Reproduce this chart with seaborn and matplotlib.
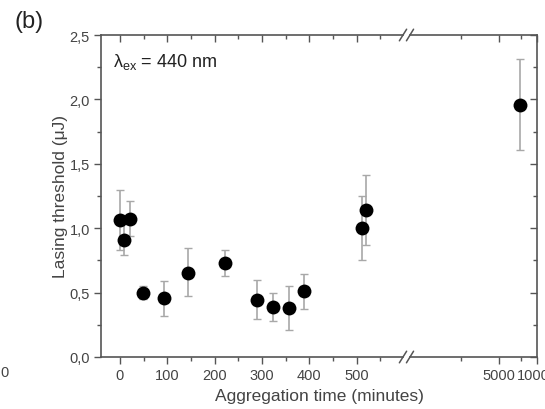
import numpy as np
import pandas as pd
import seaborn as sns
import matplotlib.pyplot as plt
from matplotlib.ticker import FuncFormatter

# Data (aggregation time in minutes, threshold in uJ)
time_min = [0, 8, 21, 49, 93, 144, 223, 290, 324, 357, 389, 511, 519, 7300]
threshold = [1.06, 0.91, 1.07, 0.50, 0.46, 0.65, 0.73, 0.445, 0.39, 0.38, 0.51, 1.00, 1.14, 1.96]
err_low = [0.23, 0.12, 0.13, 0.05, 0.14, 0.18, 0.10, 0.15, 0.11, 0.17, 0.14, 0.25, 0.27, 0.35]
err_high = [0.24, 0.12, 0.14, 0.05, 0.13, 0.20, 0.10, 0.155, 0.11, 0.175, 0.135, 0.25, 0.27, 0.35]

left_xticks = [0, 100, 200, 300, 400, 500]
left_minor = [50, 150, 250, 350, 450, 550]
right_xticks = [5000, 10000]
right_minor = [2500, 7500]
yticks = [0.0, 0.5, 1.0, 1.5, 2.0, 2.5]
yminor = [0.25, 0.75, 1.25, 1.75, 2.25]

df = pd.DataFrame({"time": time_min, "thr": threshold, "lo": err_low, "hi": err_high})

sns.set_style("ticks")
plt.rcParams['font.family'] = ['Liberation Sans', 'DejaVu Sans']
plt.rcParams['mathtext.fontset'] = 'custom'
plt.rcParams['mathtext.rm'] = 'Liberation Sans'
plt.rcParams['mathtext.it'] = 'Liberation Sans:italic'

spine_c = '#555555'
text_c = '#444444'
W, H = 545, 410

fig = plt.figure(figsize=(5.45, 4.10), dpi=100)
y0, y1 = 1 - 358 / H, 1 - 36 / H
axL = fig.add_axes([101 / W, y0, (403 - 101) / W, y1 - y0])
axR = fig.add_axes([410 / W, y0, (537 - 410) / W, y1 - y0])

comma = FuncFormatter(lambda v, p: f"{v:.1f}".replace('.', ','))

for ax, sub in [(axL, df[df.time < 1000]), (axR, df[df.time >= 1000])]:
    ax.errorbar(sub.time, sub.thr, yerr=[sub.lo, sub.hi], fmt='none',
                ecolor='#a8a8a8', elinewidth=1.2, capsize=3, capthick=1.0, zorder=2)
    sns.scatterplot(data=sub, x="time", y="thr", ax=ax, color='black', s=100,
                    edgecolor='black', linewidth=0, zorder=3, legend=False)
    ax.set_ylim(0, 2.5)
    ax.set_xlabel("")
    ax.set_ylabel("")
    for s in ax.spines.values():
        s.set_color(spine_c)
        s.set_linewidth(1.2)
    ax.tick_params(which='both', direction='out', colors=spine_c, labelcolor=text_c,
                   labelsize=10.5, width=1.0, pad=3)
    ax.tick_params(which='major', length=5)
    ax.tick_params(which='minor', length=3)

# left segment
axL.set_xlim(-40, 598)
axL.set_xticks(left_xticks)
axL.set_xticks(left_minor, minor=True)
axL.set_yticks(yticks)
axL.set_yticks(yminor, minor=True)
axL.yaxis.set_major_formatter(comma)
axL.spines['right'].set_visible(False)
axL.set_ylabel("Lasing threshold (\u03bcJ)", fontsize=12.5, color=text_c, labelpad=1)

# right segment (log)
axR.set_xscale('log')
axR.set_xlim(985, 10000)
axR.set_xticks(right_xticks)
axR.set_xticklabels(['5000', '10000'])
axR.set_xticks(right_minor, minor=True)
axR.xaxis.set_minor_formatter(FuncFormatter(lambda v, p: ""))
axR.spines['left'].set_visible(False)
axR.tick_params(axis='y', which='both', left=False, labelleft=False)

# mirrored ticks pointing inward on top / right
for ax, maj, mnr in [(axL, left_xticks, left_minor), (axR, right_xticks, right_minor)]:
    top = ax.secondary_xaxis('top')
    top.set_xticks(maj)
    top.set_xticks(mnr, minor=True)
    top.tick_params(which='both', direction='in', colors=spine_c, labeltop=False, width=1.0)
    top.tick_params(which='major', length=5)
    top.tick_params(which='minor', length=3)
    top.xaxis.set_minor_formatter(FuncFormatter(lambda v, p: ""))
    top.spines['top'].set_visible(False)
right = axR.secondary_yaxis('right')
right.set_yticks(yticks)
right.set_yticks(yminor, minor=True)
right.tick_params(which='both', direction='in', colors=spine_c, labelright=False, width=1.0)
right.tick_params(which='major', length=5)
right.tick_params(which='minor', length=3)
right.spines['right'].set_visible(False)

# axis break marks
for ax, dx in [(axL, 0.012), (axR, 0.028)]:
    xe = 1.0 if ax is axL else 0.0
    for ye in (0.0, 1.0):
        ax.plot([xe - dx, xe + dx], [ye - 0.018, ye + 0.018], transform=ax.transAxes,
                color=spine_c, lw=1.1, clip_on=False)

axL.text(0.04, 0.92, "\u03bb$_{\\mathrm{ex}}$ = 440 nm", transform=axL.transAxes,
         fontsize=13, color='#222222', va='center')

fig.text(29 / W, 1 - 22 / H, "(b)", fontsize=17, color='#222222', ha='center', va='center')
fig.text(319 / W, 1 - 397 / H, "Aggregation time (minutes)", fontsize=12.5,
         color=text_c, ha='center', va='center')
fig.text(0 / W, 1 - 373 / H, "0", fontsize=10.5, color=text_c, ha='left', va='center')

fig.savefig("out.png", dpi=100)
